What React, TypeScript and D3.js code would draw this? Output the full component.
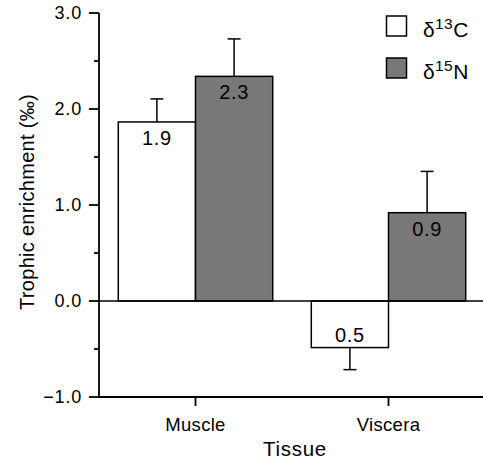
import * as d3 from "d3";

const TISSUES = ["Muscle", "Viscera"];
const SERIES = ["d13C", "d15N"];
const MEANS_13C = [1.865, -0.485];
const MEANS_15N = [2.34, 0.92];
const ERR_13C = [0.24, 0.23];
const ERR_15N = [0.39, 0.43];
const VALUE_LABELS_13C = ["1.9", "0.5"];
const VALUE_LABELS_15N = ["2.3", "0.9"];
const Y_TICKS = [-1, 0, 1, 2, 3];
const Y_MINOR = [-0.5, 0.5, 1.5, 2.5];

const W = 483, H = 462;
const M = { top: 13, right: -2, bottom: 65, left: 99 };
const FONT = "'Liberation Sans', Arial, Helvetica, sans-serif";
const FILL = { d13C: "#ffffff", d15N: "#787878" };

export default function App() {
  const y = d3.scaleLinear().domain([-1, 3]).range([H - M.bottom, M.top]);
  const x0 = d3.scaleBand().domain(TISSUES).range([M.left, W - M.right])
    .paddingInner(0.2).paddingOuter(0.1);
  const x1 = d3.scaleBand().domain(SERIES).range([0, x0.bandwidth()]);

  const bars = TISSUES.flatMap((t, i) => [
    { t, s: "d13C", v: MEANS_13C[i], e: ERR_13C[i], label: VALUE_LABELS_13C[i] },
    { t, s: "d15N", v: MEANS_15N[i], e: ERR_15N[i], label: VALUE_LABELS_15N[i] },
  ]);

  const y0 = y(0);
  const xEnd = W - M.right;

  return (
    <svg width={W} height={H} style={{ position: "absolute", left: 0, top: 0, background: "#fff" }}
      fontFamily={FONT}>
      {/* bars */}
      {bars.map((b) => {
        const bx = (x0(b.t) ?? 0) + (x1(b.s) ?? 0);
        const bw = x1.bandwidth();
        const top = y(Math.max(0, b.v));
        const bot = y(Math.min(0, b.v));
        const cx = bx + bw / 2;
        const tip = b.v >= 0 ? y(b.v + b.e) : y(b.v - b.e);
        const edge = b.v >= 0 ? top : bot;
        return (
          <g key={b.t + b.s}>
            <line x1={cx} x2={cx} y1={edge} y2={tip} stroke="#000" strokeWidth={1.5} />
            <line x1={cx - 6.5} x2={cx + 6.5} y1={tip} y2={tip} stroke="#000" strokeWidth={1.5} />
            <rect x={bx} y={top} width={bw} height={bot - top}
              fill={FILL[b.s as keyof typeof FILL]} stroke="#000" strokeWidth={1.5} />
            <text x={cx} y={b.v >= 0 ? top + 23 : bot - 6} textAnchor="middle" fontSize={20}
              letterSpacing={0.6} fill="#000">
              {b.label}
            </text>
          </g>
        );
      })}

      {/* zero line */}
      <line x1={M.left} x2={xEnd} y1={y0} y2={y0} stroke="#000" strokeWidth={1.5} />

      {/* y axis */}
      <line x1={M.left} x2={M.left} y1={y(3)} y2={y(-1)} stroke="#000" strokeWidth={1.8} />
      {Y_TICKS.map((t) => (
        <g key={t}>
          <line x1={M.left - 10} x2={M.left} y1={y(t)} y2={y(t)} stroke="#000" strokeWidth={1.8} />
          <text x={M.left - 17} y={y(t)} dy="0.36em" textAnchor="end" fontSize={18}
            letterSpacing={0.8} fill="#000">
            {t < 0 ? "\u2212" + d3.format(".1f")(-t) : d3.format(".1f")(t)}
          </text>
        </g>
      ))}
      {Y_MINOR.map((t) => (
        <line key={t} x1={M.left - 5} x2={M.left} y1={y(t)} y2={y(t)} stroke="#000" strokeWidth={1.8} />
      ))}

      {/* x axis */}
      <line x1={M.left} x2={xEnd} y1={y(-1)} y2={y(-1)} stroke="#000" strokeWidth={1.8} />
      {TISSUES.map((t) => {
        const cx = (x0(t) ?? 0) + x0.bandwidth() / 2;
        return (
          <g key={t}>
            <line x1={cx} x2={cx} y1={y(-1)} y2={y(-1) + 9} stroke="#000" strokeWidth={1.8} />
            <text x={cx} y={y(-1) + 34} textAnchor="middle" fontSize={18.5} letterSpacing={0.3}
              fill="#000">{t}</text>
          </g>
        );
      })}

      {/* axis titles */}
      <text x={295} y={456} textAnchor="middle" fontSize={20.5} letterSpacing={0.7} fill="#000">Tissue</text>
      <text transform={`translate(34,${(y(3) + y(-1)) / 2 - 3}) rotate(-90)`} textAnchor="middle"
        fontSize={20} letterSpacing={0.3} fill="#000">Trophic enrichment (‰)</text>

      {/* legend */}
      {SERIES.map((s, i) => (
        <g key={s} transform={`translate(386.5,${16 + i * 42})`}>
          <rect x={0} y={0} width={20} height={20} fill={FILL[s as keyof typeof FILL]} stroke="#000" strokeWidth={1.5} />
          <text x={36.5} y={21} fontSize={21} letterSpacing={0.4} fill="#000">
            δ<tspan dy={-8} fontSize={15.5}>{s === "d13C" ? "13" : "15"}</tspan>
            <tspan dy={8}>{s === "d13C" ? "C" : "N"}</tspan>
          </text>
        </g>
      ))}
    </svg>
  );
}
